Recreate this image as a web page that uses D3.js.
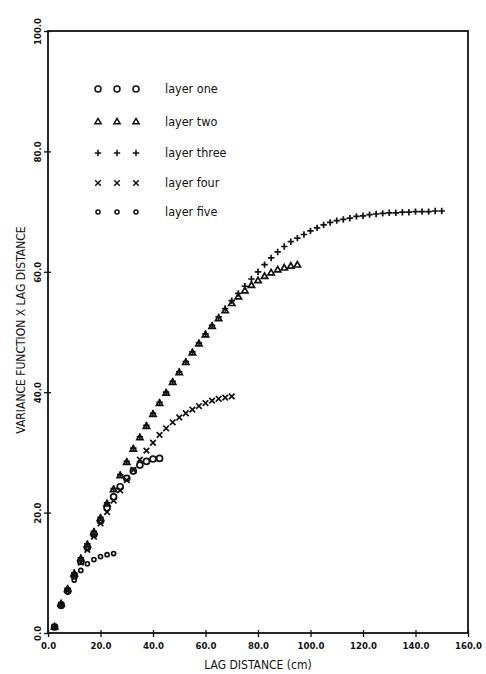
<!DOCTYPE html>
<html>
<head>
<meta charset="utf-8">
<script src="https://cdn.jsdelivr.net/npm/d3@7"></script>
<style>
  body { margin: 0; background: #fff; }
  svg { display: block; }
  text { font-family: "DejaVu Sans Condensed", "DejaVu Sans", sans-serif; fill: #111; }
</style>
</head>
<body>
<div id="chart"></div>
<script>
// lag distance values (cm), one per point
var lagCm = [2.5, 5, 7.5, 10, 12.5, 15, 17.5, 20, 22.5, 25,
  27.5, 30, 32.5, 35, 37.5, 40, 42.5, 45, 47.5, 50,
  52.5, 55, 57.5, 60, 62.5, 65, 67.5, 70, 72.5, 75,
  77.5, 80, 82.5, 85, 87.5, 90, 92.5, 95, 97.5, 100,
  102.5, 105, 107.5, 110, 112.5, 115, 117.5, 120, 122.5, 125,
  127.5, 130, 132.5, 135, 137.5, 140, 142.5, 145, 147.5, 150]

// variance function x lag distance, per layer
var layerOne = [1.0, 4.6, 7.0, 9.5, 11.9, 14.2, 16.4, 18.6, 20.8, 22.6,
  24.3, 25.7, 26.9, 27.9, 28.5, 28.9, 29.0]
var layerTwo = [1.0, 4.8, 7.2, 9.8, 12.3, 14.6, 16.7, 19.0, 21.4, 23.8,
  26.1, 28.3, 30.5, 32.4, 34.3, 36.3, 38.1, 39.8, 41.6, 43.2,
  44.9, 46.5, 48.0, 49.5, 50.9, 52.2, 53.5, 54.7, 55.8, 56.8,
  57.7, 58.5, 59.2, 59.8, 60.3, 60.6, 60.9, 61.1]
var layerThree = [1.0, 4.9, 7.4, 10.0, 12.5, 14.8, 16.9, 19.2, 21.6, 24.0,
  26.3, 28.5, 30.7, 32.6, 34.5, 36.5, 38.3, 40.0, 41.8, 43.4,
  45.1, 46.7, 48.2, 49.7, 51.1, 52.5, 53.9, 55.2, 56.4, 57.6,
  58.8, 60.0, 61.2, 62.3, 63.3, 64.2, 65.0, 65.6, 66.2, 66.8,
  67.3, 67.8, 68.2, 68.5, 68.7, 68.9, 69.2, 69.3, 69.5, 69.6,
  69.7, 69.8, 69.8, 69.9, 69.9, 70.0, 70.0, 70.0, 70.1, 70.1]
var layerFour = [1.0, 4.7, 7.0, 9.5, 11.7, 13.8, 16.0, 18.2, 20.1, 22.0,
  23.7, 25.4, 27.1, 28.8, 30.3, 31.6, 32.9, 34.0, 35.0, 35.8,
  36.5, 37.1, 37.7, 38.2, 38.6, 38.9, 39.1, 39.3]
var layerFive = [1.0, 4.5, 6.8, 8.8, 10.4, 11.5, 12.2, 12.7, 13.0, 13.2]

var layerNames = ["layer one", "layer two", "layer three", "layer four", "layer five"]
var layerSymbols = ["circle", "triangle", "plus", "times", "small"]
var xTicks = [0, 20, 40, 60, 80, 100, 120, 140, 160]
var yTicks = [0, 20, 40, 60, 80, 100]

var layers = [layerOne, layerTwo, layerThree, layerFour, layerFive]

var width = 486, height = 674
var margin = {top: 31, right: 18, bottom: 41, left: 48}

var svg = d3.select("#chart")
  .append("svg")
    .attr("width", width)
    .attr("height", height)

var x = d3.scaleLinear()
  .domain([0, 160])
  .range([margin.left, width - margin.right])

var y = d3.scaleLinear()
  .domain([0, 100])
  .range([height - margin.bottom, margin.top])

// marker shapes, drawn as open strokes
function markerPath(kind) {
  if (kind == "circle") return d3.symbol().type(d3.symbolCircle).size(28)()
  if (kind == "triangle") return d3.symbol().type(d3.symbolTriangle).size(17)()
  if (kind == "small") return d3.symbol().type(d3.symbolCircle).size(13)()
  if (kind == "plus") return "M-3.2,0H3.2M0,-3.2V3.2"
  return "M-2.8,-2.8L2.8,2.8M-2.8,2.8L2.8,-2.8"
}

// frame
svg.append("rect")
  .attr("x", x(0))
  .attr("y", y(100))
  .attr("width", x(160) - x(0))
  .attr("height", y(0) - y(100))
  .attr("fill", "none")
  .attr("stroke", "#111")
  .attr("stroke-width", 1.8)

// x axis
var xAxis = svg.append("g")
  .attr("transform", "translate(0," + y(0) + ")")
  .call(d3.axisBottom(x).tickValues(xTicks).tickSize(4).tickFormat(d3.format(".1f")))
xAxis.select(".domain").remove()
xAxis.selectAll("line").attr("stroke", "#111").attr("stroke-width", 1.3).attr("y1", -3)
xAxis.selectAll("text")
  .attr("y", 9)
  .style("font-size", "9.5px")
  .style("font-weight", "bold")

// y axis, labels turned on their side
var yAxis = svg.append("g")
  .attr("transform", "translate(" + x(0) + ",0)")
  .call(d3.axisLeft(y).tickValues(yTicks).tickSize(4).tickFormat(d3.format(".1f")))
yAxis.select(".domain").remove()
yAxis.selectAll("line").attr("stroke", "#111").attr("stroke-width", 1.3).attr("x1", 3)
yAxis.selectAll("text")
  .attr("x", null).attr("dy", null)
  .attr("transform", "translate(-7,0) rotate(-90)")
  .attr("text-anchor", "middle")
  .style("font-size", "9.5px")
  .style("font-weight", "bold")

// axis titles
svg.append("text")
  .attr("x", (x(0) + x(160)) / 2)
  .attr("y", 669)
  .attr("text-anchor", "middle")
  .style("font-size", "12px")
  .text("LAG DISTANCE (cm)")

svg.append("text")
  .attr("transform", "translate(25," + (y(50) - 2) + ") rotate(-90)")
  .attr("text-anchor", "middle")
  .style("font-size", "12px")
  .text("VARIANCE FUNCTION X LAG DISTANCE")

// points
layers.forEach(function(values, i) {
  svg.append("g")
    .selectAll("path")
    .data(values)
    .enter()
    .append("path")
      .attr("transform", function(d, j) { return "translate(" + x(lagCm[j]) + "," + y(d) + ")" })
      .attr("d", markerPath(layerSymbols[i]))
      .attr("fill", "none")
      .attr("stroke", "#111")
      .attr("stroke-width", 1.7)
})

// legend
var legendRows = [89, 122, 153, 183, 212]
var legendCols = [98, 117, 136]
var legend = svg.append("g")
layerNames.forEach(function(name, i) {
  legendCols.forEach(function(cx) {
    legend.append("path")
      .attr("transform", "translate(" + cx + "," + legendRows[i] + ")")
      .attr("d", markerPath(layerSymbols[i]))
      .attr("fill", "none")
      .attr("stroke", "#111")
      .attr("stroke-width", 1.5)
  })
  legend.append("text")
    .attr("x", 165)
    .attr("y", legendRows[i] + 4)
    .style("font-size", "12.5px")
    .text(name)
})
</script>
</body>
</html>
